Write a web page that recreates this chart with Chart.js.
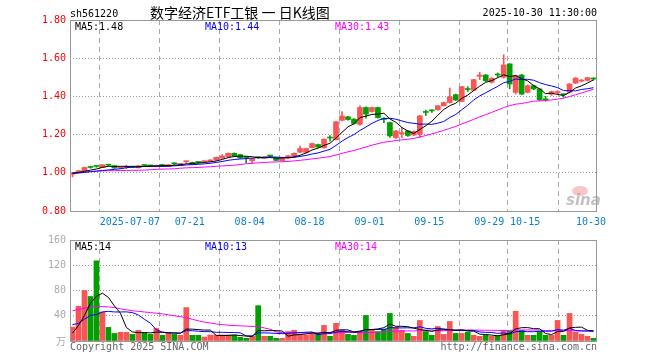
<!DOCTYPE html>
<html lang="zh">
<head>
<meta charset="UTF-8">
<title>sh561220 日K线图</title>
<script src="https://cdn.jsdelivr.net/npm/chart.js"></script>
<style>
  body { margin: 0; background: #fff; }
  #wrap { position: relative; width: 660px; height: 360px; }
  #wrap canvas { position: absolute; left: 0; top: 0; }
</style>
</head>
<body>
<div id="wrap">
  <canvas id="price" width="660" height="360"></canvas>
  <canvas id="vol" width="660" height="360"></canvas>
</div>
<script>
// trading days shown (2025)
const dates = [
  '06-23','06-24','06-25','06-26','06-27','06-30',
  '07-01','07-02','07-03','07-04','07-07','07-08','07-09','07-10','07-11','07-14','07-15','07-16','07-17','07-18',
  '07-21','07-22','07-23','07-24','07-25','07-28','07-29','07-30','07-31',
  '08-01','08-04','08-05','08-06','08-07','08-08','08-11','08-12','08-13','08-14','08-15','08-18','08-19','08-20',
  '08-21','08-22','08-25','08-26','08-27','08-28','08-29',
  '09-01','09-02','09-03','09-04','09-05','09-08','09-09','09-10','09-11','09-12','09-15','09-16','09-17','09-18',
  '09-19','09-22','09-23','09-24','09-25','09-26','09-29','09-30',
  '10-09','10-10','10-13','10-14','10-15','10-16','10-17','10-20','10-21','10-22','10-23','10-24','10-27','10-28','10-29','10-30'
];
const tickDates  = ['07-07','07-21','08-04','08-18','09-01','09-15','09-29','10-15','10-30'];
const tickLabels = ['2025-07-07','07-21','08-04','08-18','09-01','09-15','09-29','10-15','10-30'];
const priceTicks = [0.8, 1.0, 1.2, 1.4, 1.6, 1.8];
const volTicks = [0, 40, 80, 120, 160];

const opens = [0.993,1.000,1.011,1.029,1.034,1.028,1.041,1.037,1.025,1.029,1.031,1.026,1.039,1.037,1.032,1.043,1.034,1.048,1.039,1.058,
  1.054,1.055,1.058,1.060,1.067,1.077,1.084,1.102,1.095,1.080,1.063,1.080,1.078,1.089,1.077,1.063,1.077,1.088,1.108,1.107,
  1.132,1.148,1.131,1.183,1.174,1.275,1.293,1.281,1.254,1.342,1.321,1.342,1.280,1.263,1.184,1.205,1.219,1.198,1.202,1.317,
  1.325,1.330,1.351,1.368,1.409,1.374,1.437,1.432,1.505,1.512,1.474,1.513,1.500,1.570,1.421,1.512,1.421,1.456,1.439,1.383,
  1.412,1.420,1.410,1.421,1.470,1.480,1.484,1.492];
const highs = [1.001,1.012,1.030,1.032,1.037,1.043,1.044,1.038,1.032,1.040,1.033,1.038,1.042,1.039,1.041,1.045,1.043,1.052,1.050,1.062,
  1.056,1.058,1.063,1.069,1.083,1.095,1.104,1.104,1.097,1.082,1.076,1.083,1.082,1.092,1.079,1.076,1.091,1.104,1.140,1.130,
  1.155,1.150,1.178,1.195,1.270,1.321,1.296,1.284,1.351,1.345,1.344,1.344,1.289,1.265,1.222,1.237,1.222,1.220,1.300,1.328,
  1.330,1.353,1.370,1.444,1.412,1.453,1.451,1.490,1.526,1.515,1.498,1.523,1.618,1.572,1.512,1.516,1.460,1.460,1.442,1.400,
  1.428,1.430,1.413,1.468,1.498,1.490,1.500,1.497];
const lows = [0.979,0.999,1.010,1.024,1.029,1.027,1.036,1.024,1.022,1.021,1.027,1.025,1.035,1.033,1.031,1.033,1.033,1.043,1.038,1.049,
  1.044,1.050,1.056,1.058,1.065,1.075,1.082,1.086,1.075,1.053,1.049,1.075,1.076,1.084,1.063,1.061,1.075,1.086,1.105,1.104,
  1.130,1.133,1.129,1.165,1.172,1.272,1.276,1.255,1.250,1.286,1.318,1.286,1.263,1.185,1.180,1.184,1.190,1.195,1.185,1.300,
  1.316,1.328,1.349,1.365,1.378,1.372,1.426,1.430,1.488,1.478,1.470,1.500,1.495,1.440,1.412,1.410,1.418,1.435,1.378,1.375,
  1.405,1.410,1.395,1.418,1.467,1.476,1.480,1.485];
const closes = [1.000,1.011,1.028,1.028,1.033,1.042,1.040,1.025,1.030,1.031,1.030,1.037,1.038,1.036,1.039,1.034,1.042,1.047,1.049,1.060,
  1.046,1.054,1.060,1.067,1.081,1.088,1.102,1.088,1.077,1.079,1.074,1.079,1.080,1.088,1.065,1.074,1.089,1.102,1.127,1.127,
  1.153,1.135,1.176,1.182,1.267,1.298,1.279,1.258,1.342,1.307,1.342,1.289,1.279,1.193,1.219,1.207,1.195,1.216,1.298,1.316,
  1.324,1.351,1.368,1.398,1.381,1.451,1.436,1.488,1.512,1.482,1.495,1.512,1.565,1.465,1.509,1.412,1.456,1.439,1.382,1.382,
  1.425,1.424,1.409,1.465,1.496,1.483,1.498,1.491];
// volume, 万手
const volumes = [22,55,80,70.5,127,46,21.6,12,13.7,13.7,10.5,16.8,12.6,10.5,20,9,12.6,10.5,9,53,
  9,9,6.3,9.5,9.5,9.5,9.5,9.5,5.8,4.2,7.4,56,7.4,7.4,4.2,4.2,15,17,10.5,9.5,
  12,12,24.7,7.4,28,17,10.5,9,14,40.5,17,15,19,43.7,21.6,17,12,7.4,32.6,15,
  9,23,10.5,31,12,12,14,9,7.4,9,7.4,8.4,17,16,47,17,9,9,15,9,
  9,32.6,9,43.7,14,10.5,7.4,4.2];

// moving-average values at the start of the window
// (they include trading days before the first candle shown)
const priceMa5Head  = [0.998,1.002,1.008,1.014];
const priceMa10Head = [0.997,0.999,1.002,1.006,1.009,1.012,1.015,1.018,1.021];
const priceMa30Head = [0.998,1.001,1.004,1.006,1.008,1.010,1.011,1.011,1.012,1.012,1.013,1.013,1.014,1.016,1.018,1.019,1.020,1.021,1.024,1.026,
  1.027,1.028,1.030,1.032,1.034,1.036,1.038,1.040,1.043];
const volMa5Head  = [12.6,24.7,40.5,60];
const volMa10Head = [25.8,28,34.7,40.5,42,46,47,46,46];
const volMa30Head = [48,50,52,54,55,54.5,54,53,51,49.5,48,47,46,45,44,43,41.5,40,38.5,37,
  34.5,32,30,28.5,27,26,25,24.5,24];

function movingAvg(values, n, head) {
  return values.map((v, i) => {
    if (i < n - 1) return head[i];
    let s = 0;
    for (let k = i - n + 1; k <= i; k++) s += values[k];
    return s / n;
  });
}

const RED = '#fa5555', GREEN = '#00a000';
const candleColors = closes.map((c, i) => c >= opens[i] ? RED : GREEN);
const tickIdx = tickDates.map(d => dates.indexOf(d));
const SHIFT = 2.5 / 6;              // grid line sits on the left edge of the candle slot
const X_MIN = -SHIFT, X_MAX = dates.length - SHIFT;
const MONO = 'DejaVu Sans Mono';

const pts = arr => arr.map((v, i) => ({ x: i, y: v }));
const maLine = (data, color) => ({
  type: 'line', data: pts(data), borderColor: color, borderWidth: 1,
  pointRadius: 0, tension: 0, order: 0
});

const frame = {
  id: 'frame',
  afterDraw(chart) {
    const { ctx, chartArea: a } = chart;
    ctx.save();
    ctx.strokeStyle = '#999';
    ctx.lineWidth = 1;
    ctx.strokeRect(a.left + 0.5, a.top + 0.5, a.right - a.left - 1, a.bottom - a.top);
    ctx.restore();
  }
};

function text(ctx, s, x, y, color, font, align) {
  ctx.fillStyle = color;
  ctx.font = font;
  ctx.textAlign = align || 'left';
  ctx.textBaseline = 'alphabetic';
  ctx.fillText(s, x, y);
}

const priceTexts = {
  id: 'priceTexts',
  afterDraw(chart) {
    const ctx = chart.ctx;
    ctx.save();
    text(ctx, 'sh561220', 70, 17, '#000', '10px ' + MONO);
    text(ctx, '数字经济ETF工银 一 日K线图', 150, 18, '#000', '14px "Noto Sans CJK SC"');
    text(ctx, '2025-10-30 11:30:00', 597, 16, '#000', '10px ' + MONO, 'right');
    text(ctx, 'MA5:1.48', 75, 30, '#000', '10px ' + MONO);
    text(ctx, 'MA10:1.44', 205, 30, '#0000ff', '10px ' + MONO);
    text(ctx, 'MA30:1.43', 335, 30, '#ff00ff', '10px ' + MONO);
    // sina watermark
    ctx.globalAlpha = 0.45;
    ctx.fillStyle = '#f08080';
    ctx.beginPath();
    ctx.ellipse(580, 191, 8, 5, 0, 0, Math.PI * 2);
    ctx.fill();
    ctx.globalAlpha = 0.6;
    text(ctx, 'sina', 566, 205, '#999', 'italic bold 15px "DejaVu Sans"');
    ctx.restore();
  }
};

const volTexts = {
  id: 'volTexts',
  afterDraw(chart) {
    const ctx = chart.ctx;
    ctx.save();
    text(ctx, 'MA5:14', 75, 250, '#000', '10px ' + MONO);
    text(ctx, 'MA10:13', 205, 250, '#0000ff', '10px ' + MONO);
    text(ctx, 'MA30:14', 335, 250, '#ff00ff', '10px ' + MONO);
    text(ctx, '万', 66, 345, '#aaa', '10px "Noto Sans CJK SC"', 'right');
    text(ctx, 'Copyright 2025 SINA.COM', 70, 350, '#666', '10px ' + MONO);
    text(ctx, 'http://finance.sina.com.cn', 597, 350, '#666', '10px ' + MONO, 'right');
    ctx.restore();
  }
};

const xScale = (showLabels) => ({
  type: 'linear', min: X_MIN, max: X_MAX, offset: false,
  afterBuildTicks: s => { s.ticks = tickIdx.map(i => ({ value: i - SHIFT })); },
  afterFit: s => { s.height = showLabels ? 20 : 0; },
  grid: { color: '#aaa', lineWidth: 1, drawTicks: false },
  border: { display: false, dash: [5, 4] },
  ticks: {
    display: showLabels, autoSkip: false, maxRotation: 0, padding: 5,
    color: '#0a7fd0', font: { family: MONO, size: 10 },
    callback: (v, i) => tickLabels[i]
  }
});

new Chart(document.getElementById('price'), {
  type: 'bar',
  data: {
    datasets: [
      maLine(movingAvg(closes, 5, priceMa5Head), '#000'),
      maLine(movingAvg(closes, 10, priceMa10Head), '#0000ff'),
      maLine(movingAvg(closes, 30, priceMa30Head), '#ff00ff'),
      { type: 'bar', data: highs.map((h, i) => ({ x: i, y: [lows[i], h] })),
        backgroundColor: candleColors, barThickness: 1, grouped: false, order: 2 },
      { type: 'bar', data: opens.map((o, i) => ({ x: i, y: [o, closes[i]] })),
        backgroundColor: candleColors, barThickness: 5, grouped: false, minBarLength: 1, order: 1 }
    ]
  },
  options: {
    responsive: false, animation: false, devicePixelRatio: 1,
    layout: { padding: { left: 0, top: 20, right: 63, bottom: 129 } },
    plugins: { legend: { display: false }, tooltip: { enabled: false } },
    scales: {
      x: xScale(true),
      y: {
        min: 0.8, max: 1.8,
        afterBuildTicks: s => { s.ticks = priceTicks.map(v => ({ value: v })); },
        afterFit: s => { s.width = 70; },
        grid: {
          drawTicks: false, lineWidth: 1,
          color: c => (c.tick && (c.tick.value <= 0.8 || c.tick.value >= 1.8)) ? 'rgba(0,0,0,0)' : '#999'
        },
        border: { display: false, dash: [1, 2] },
        ticks: { color: '#ff0000', padding: 4, font: { family: MONO, size: 10 }, callback: v => v.toFixed(2) }
      }
    }
  },
  plugins: [frame, priceTexts]
});

new Chart(document.getElementById('vol'), {
  type: 'bar',
  data: {
    datasets: [
      maLine(movingAvg(volumes, 5, volMa5Head), '#000'),
      maLine(movingAvg(volumes, 10, volMa10Head), '#0000ff'),
      maLine(movingAvg(volumes, 30, volMa30Head), '#ff00ff'),
      { type: 'bar', data: pts(volumes), backgroundColor: candleColors,
        barThickness: 5, grouped: false, order: 1 }
    ]
  },
  options: {
    responsive: false, animation: false, devicePixelRatio: 1,
    layout: { padding: { left: 0, top: 240, right: 63, bottom: 19 } },
    plugins: { legend: { display: false }, tooltip: { enabled: false } },
    scales: {
      x: xScale(false),
      y: {
        min: 0, max: 160,
        afterBuildTicks: s => { s.ticks = volTicks.map(v => ({ value: v })); },
        afterFit: s => { s.width = 70; },
        grid: {
          drawTicks: false, lineWidth: 1,
          color: c => (c.tick && (c.tick.value <= 0 || c.tick.value >= 160)) ? 'rgba(0,0,0,0)' : '#999'
        },
        border: { display: false, dash: [1, 2] },
        ticks: { color: '#aaa', padding: 4, font: { family: MONO, size: 10 }, callback: v => v === 0 ? '' : String(v) }
      }
    }
  },
  plugins: [frame, volTexts]
});
</script>
</body>
</html>
